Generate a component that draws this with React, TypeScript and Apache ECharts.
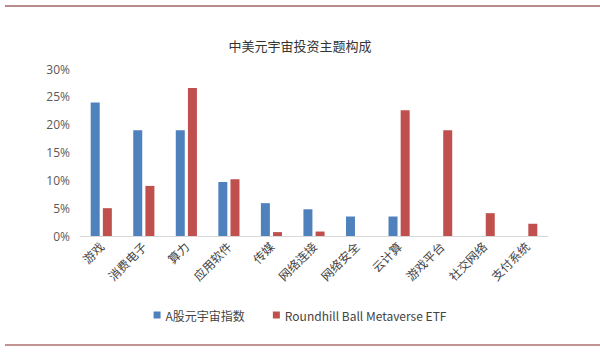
import React, { useEffect, useRef } from "react";
import * as echarts from "echarts";

const categories = ["游戏", "消费电子", "算力", "应用软件", "传媒", "网络连接", "网络安全", "云计算", "游戏平台", "社交网络", "支付系统"];
const aShareValues = [24.0, 19.0, 19.0, 9.7, 5.9, 4.8, 3.5, 3.5, null, null, null];
const roundhillValues = [5.0, 9.0, 26.6, 10.2, 0.7, 0.8, null, 22.6, 19.0, 4.1, 2.2];
const seriesNames = ["A股元宇宙指数", "Roundhill Ball Metaverse ETF"];
const yTicks = { min: 0, max: 30, interval: 5 };

export default function App() {
  const ref = useRef<HTMLDivElement>(null);
  useEffect(() => {
    const chart = echarts.init(ref.current!, null, { renderer: "svg" });
    chart.setOption({
      animation: false,
      backgroundColor: "#fff",
      title: {
        text: "中美元宇宙投资主题构成",
        left: "center",
        top: 34,
        textStyle: { fontSize: 13, fontWeight: "normal", color: "#333", fontFamily: "Noto Sans CJK SC" },
      },
      legend: {
        bottom: 26,
        left: "center",
        itemWidth: 7,
        itemHeight: 7,
        itemGap: 28,
        icon: "rect",
        textStyle: { fontSize: 12, color: "#444", fontFamily: "Noto Sans CJK SC" },
        data: seriesNames,
      },
      grid: { left: 80, right: 52, top: 69, bottom: 116 },
      xAxis: {
        type: "category",
        data: categories,
        axisLine: { lineStyle: { color: "#d9d9d9" } },
        axisTick: { show: false },
        axisLabel: { rotate: 45, fontSize: 12, color: "#444", margin: 8, fontFamily: "Noto Sans CJK SC", interval: 0 },
      },
      yAxis: {
        type: "value",
        min: yTicks.min,
        max: yTicks.max,
        interval: yTicks.interval,
        splitLine: { show: false },
        axisLine: { show: false },
        axisTick: { show: false },
        axisLabel: { formatter: "{value}%", fontSize: 12, color: "#595959", margin: 10, fontFamily: "Open Sans" },
      },
      series: [
        {
          name: seriesNames[0],
          type: "bar",
          data: aShareValues,
          barWidth: 9,
          barGap: "35%",
          itemStyle: { color: "#4F81BD" },
        },
        {
          name: seriesNames[1],
          type: "bar",
          data: roundhillValues,
          barWidth: 9,
          barGap: "35%",
          itemStyle: { color: "#C0504D" },
        },
      ],
      graphic: [
        { type: "rect", shape: { x: 5, y: 5, width: 595, height: 2 }, style: { fill: "#b88c8c" } },
        { type: "rect", shape: { x: 5, y: 344, width: 595, height: 2 }, style: { fill: "#c29393" } },
      ],
    });
    return () => chart.dispose();
  }, []);
  return <div ref={ref} style={{ width: 600, height: 352, position: "fixed", left: 0, top: 0 }} />;
}
